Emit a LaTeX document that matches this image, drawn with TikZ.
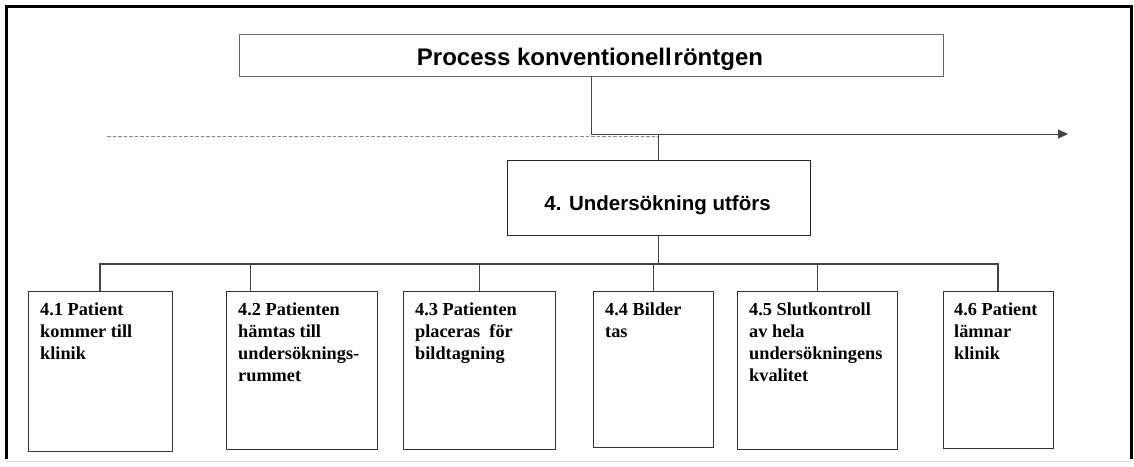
\documentclass[tikz,border=0pt]{standalone}
\usepackage{fontspec}
\setmainfont{Liberation Serif}
\newfontfamily\arialf{Liberation Sans}
\usetikzlibrary{arrows.meta}
\definecolor{boxgray}{HTML}{666666}
\definecolor{linegray}{HTML}{444444}
\definecolor{dashgray}{HTML}{888888}
\tikzset{
  titlebox/.style={draw=boxgray, line width=1pt, minimum width=704pt, minimum height=42pt, inner sep=0pt},
  titletext/.style={anchor=base, inner sep=0pt, font=\arialf\bfseries\fontsize{24}{28}\selectfont},
  midbox/.style={draw=black!85, line width=1pt, minimum width=303pt, minimum height=75pt, inner sep=0pt},
  midtext/.style={anchor=base, inner sep=0pt, font=\arialf\bfseries\fontsize{20.5}{24}\selectfont},
  childbox/.style={draw=black!80, line width=1pt, inner sep=0pt},
  childtext/.style={anchor=north west, inner sep=0pt, align=left,
    font=\bfseries\fontsize{18.3}{22}\selectfont},
  conn/.style={draw=linegray, line width=1pt},
  busline/.style={draw=linegray, line width=1.3pt},
  dashline/.style={draw=dashgray, line width=1pt, dashed, dash pattern=on 3.5pt off 2pt},
  frameline/.style={draw=black, line width=3pt}
}
\begin{document}
\begin{tikzpicture}[x=1pt,y=-1pt]
\useasboundingbox (0,0) rectangle (1134,466);
% frame
\draw[frameline] (6,459) -- (6,6) -- (1131,6) -- (1131,459);
\draw[draw=black!12, line width=1pt] (6,461) -- (1131,461);
% top title
\node[titlebox] (title) at (591,55) {};
\node[titletext] (titlelabel) at (590,65) {Process konventionell\hspace{2pt}röntgen};
% middle box
\node[midbox] (mid) at (658.5,197.5) {};
\node[midtext] (midlabel) at (657.5,210) {4. Undersökning utförs};
% time arrow and dashed line
\coordinate (tip) at (1068,134);
\coordinate (dstart) at (107,136);
\coordinate (dend) at (659,136);
\draw[dashline] (dstart) -- (dend);
\draw[conn, -{Triangle[length=10pt,width=9pt]}] (title.south) |- (tip);
\draw[conn] (mid.north) -- (mid.north |- tip);
% child boxes
\node[childbox, minimum width=144pt, minimum height=160pt] (c1) at (100,371) {};
\node[childbox, minimum width=151pt, minimum height=158pt] (c2) at (301.5,370) {};
\node[childbox, minimum width=152pt, minimum height=158pt] (c3) at (479,370) {};
\node[childbox, minimum width=120pt, minimum height=156pt] (c4) at (653,369) {};
\node[childbox, minimum width=160pt, minimum height=158pt] (c5) at (817,370) {};
\node[childbox, minimum width=110pt, minimum height=157pt] (c6) at (998,369.5) {};
% child texts
\node[childtext] (t1) at (40,303) {4.1 Patient\\kommer till\\klinik};
\node[childtext] (t2) at (238,303) {4.2 Patienten\\hämtas till\\undersöknings-\\rummet};
\node[childtext] (t3) at (415,303) {4.3 Patienten\\placeras\ \ för\\bildtagning};
\node[childtext] (t4) at (605,303) {4.4 Bilder\\tas};
\node[childtext] (t5) at (749,303) {4.5 Slutkontroll\\av hela\\undersökningens\\kvalitet};
\node[childtext] (t6) at (954,303) {4.6 Patient\\lämnar\\klinik};
% bus
\coordinate (bus) at (659,264);
\coordinate (c2top) at (250,291);
\draw[conn] (mid.south) -- (mid.south |- bus);
\draw[busline] (c1.north) -- (c1.north |- bus) -- (c6.north |- bus) -- (c6.north);
\draw[conn] (c2top) -- (c2top |- bus);
\draw[conn] (c3.north) -- (c3.north |- bus);
\draw[conn] (c4.north) -- (c4.north |- bus);
\draw[conn] (c5.north) -- (c5.north |- bus);
\end{tikzpicture}
\end{document}
